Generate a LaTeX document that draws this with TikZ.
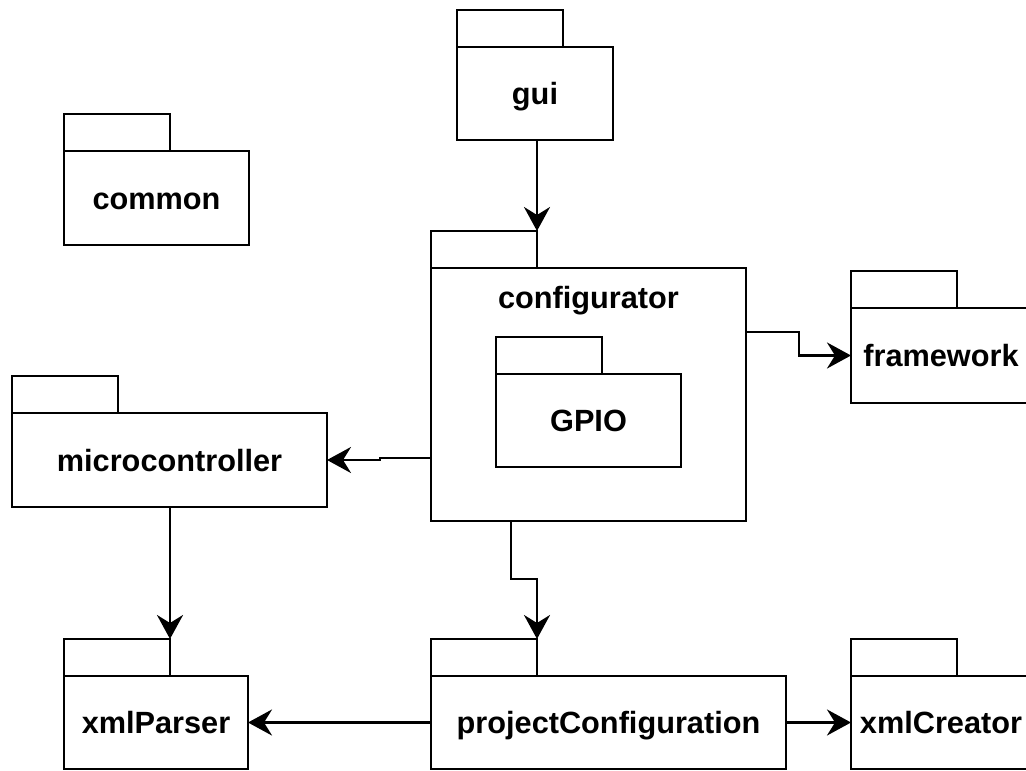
\documentclass[tikz,border=0pt]{standalone}
\usepackage{fontspec}
\setmainfont{Liberation Sans}
\usetikzlibrary{arrows.meta,calc}

\tikzset{
  pkgbody/.style={draw=black, line width=2.9pt, fill=white, inner sep=0pt, outer sep=0pt,
    font=\fontsize{30.7}{36}\selectfont\bfseries, text height=22pt, text depth=0pt},
  pkgtab/.style={draw=black, line width=2.9pt, fill=white, inner sep=0pt, outer sep=0pt,
    minimum width=106pt, minimum height=37pt, anchor=south west},
  pkgtitle/.style={inner sep=0pt, font=\fontsize{30.7}{36}\selectfont\bfseries,
    text height=22pt, text depth=0pt},
  conn/.style={draw=black, line width=2.6pt,
    -{Stealth[length=24pt, width=26pt, inset=8pt]}},
}

% #1 name, #2 left, #3 top, #4 right, #5 bottom, #6 label (pixel-style coordinates)
\newcommand\umlpkg[6]{%
  \node[pkgbody, minimum width={#4-#2}, minimum height={#5-#3}] (#1)
    at ({(#2+#4)/2},{(#3+#5)/2}) {#6};
  \node[pkgtab] (#1-tab) at (#1.north west) {};
}

\begin{document}
\begin{tikzpicture}[x=1pt, y=-1pt]
  \useasboundingbox (0,0) rectangle (1026,771);
  \clip (0,0) rectangle (1026,771);
  \fill[white] (0,0) rectangle (1026,771);

  % packages
  \umlpkg{gui}{457}{47}{613}{140}{gui}
  \umlpkg{common}{64}{151}{249}{245}{common}
  \umlpkg{cfg}{431}{268}{746}{521}{}
  \node[pkgtitle] (cfgtitle) at ($(cfg.north)+(0,29)$) {configurator};
  \umlpkg{gpio}{496}{374}{681}{467}{GPIO}
  \umlpkg{fw}{851}{308}{1031}{403}{framework}
  \umlpkg{mc}{12}{413}{327}{507}{microcontroller}
  \umlpkg{xp}{64}{676}{248}{769}{xmlParser}
  \umlpkg{pc}{431}{676}{786}{769}{projectConfiguration}
  \umlpkg{xc}{851}{676}{1031}{769}{xmlCreator}

  % dependencies
  \draw[conn] (gui.south -| cfg-tab.north east) -- (cfg-tab.north east);

  \coordinate (jfw) at (799,332);
  \draw[conn] (jfw -| cfg.east) -- (jfw) |- (fw.west);

  \coordinate (jmc) at (380,458);
  \draw[conn] (jmc -| cfg.west) -- (jmc) |- (mc.east);

  \draw[conn] (mc.south -| xp-tab.north east) -- (xp-tab.north east);

  \coordinate (jpc) at (511,579);
  \draw[conn] (jpc |- cfg.south) -- (jpc) -| (pc-tab.north east);

  \draw[conn] (pc.west) -- (xp.east);
  \draw[conn] (pc.east) -- (xc.west);
\end{tikzpicture}
\end{document}
